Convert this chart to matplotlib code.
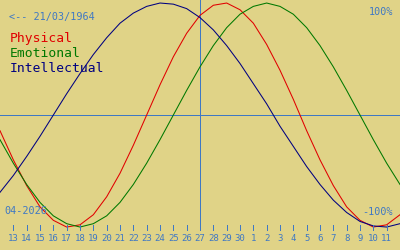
import matplotlib
matplotlib.use('Agg')
import matplotlib.pyplot as plt

# days shown: 12 Apr .. 12 May 2026 (day numbers continue past 30 for May)
days = list(range(12, 43))
physical = [-0.14, -0.40, -0.63, -0.82, -0.94, -1.00, -0.98, -0.89, -0.73, -0.52, -0.27,
            0.00, 0.27, 0.52, 0.73, 0.89, 0.98, 1.00, 0.94, 0.82, 0.63, 0.40, 0.14,
            -0.14, -0.40, -0.63, -0.82, -0.94, -1.00, -0.98, -0.89]
emotional = [-0.22, -0.43, -0.62, -0.78, -0.90, -0.97, -1.00, -0.97, -0.90, -0.78, -0.62,
             -0.43, -0.22, 0.00, 0.22, 0.43, 0.62, 0.78, 0.90, 0.97, 1.00, 0.97, 0.90,
             0.78, 0.62, 0.43, 0.22, 0.00, -0.22, -0.43, -0.62]
intellectual = [-0.69, -0.54, -0.37, -0.19, 0.00, 0.19, 0.37, 0.54, 0.69, 0.82, 0.91,
                0.97, 1.00, 0.99, 0.95, 0.87, 0.76, 0.62, 0.46, 0.28, 0.10, -0.10, -0.28,
                -0.46, -0.62, -0.76, -0.87, -0.95, -0.99, -1.00, -0.97]
tick_days = list(range(13, 42))
tick_labels = [str(d) for d in range(13, 31)] + [str(d) for d in range(1, 12)]
today = 27
birth_text = '<-- 21/03/1964'
month_text = '04-2026'
series_names = ['Physical', 'Emotional', 'Intellectual']

BG = '#e0d387'
BLUE = '#3f78c4'
COLORS = ['#e00000', '#007800', '#000080']

plt.rcParams['font.family'] = 'DejaVu Sans Mono'

fig = plt.figure(figsize=(4, 2.5), dpi=100)
fig.patch.set_facecolor(BG)
ax = fig.add_axes([0, 0, 1, 1])
ax.set_facecolor(BG)
ax.set_xlim(12, 42)
ax.set_ylim(-1.205, 1.027)
ax.axis('off')

ax.axhline(0, color=BLUE, lw=0.7, antialiased=False)
ax.plot([today, today], [1.03, -1.01], color=BLUE, lw=0.7, antialiased=False)

for values, color in zip([physical, emotional, intellectual], COLORS):
    ax.plot(days, values, color=color, lw=0.75)

ax.vlines(tick_days, -0.985, -1.03, color=BLUE, lw=0.7, antialiased=False)
for d, lab in zip(tick_days, tick_labels):
    ax.text(d, -1.10, lab, color=BLUE, fontsize=6.5, ha='center', va='center')

ax.text(12.7, 0.875, birth_text, color=BLUE, fontsize=7.3, va='center')
ax.text(41.5, 0.92, '100%', color=BLUE, fontsize=7.3, ha='right', va='center')
ax.text(12.3, -0.86, month_text, color=BLUE, fontsize=7.3, va='center')
ax.text(41.5, -0.87, '-100%', color=BLUE, fontsize=7.3, ha='right', va='center')

for i, (name, color) in enumerate(zip(series_names, COLORS)):
    ax.text(12.7, 0.685 - i * 0.135, name, color=color, fontsize=9.4, va='center')

fig.savefig('out.png', dpi=100, facecolor=BG)
